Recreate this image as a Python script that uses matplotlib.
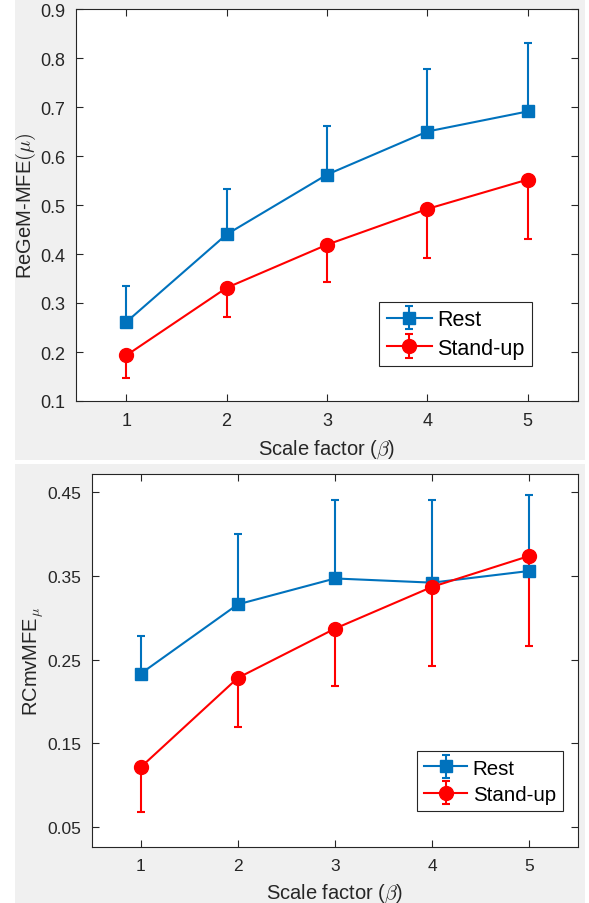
import matplotlib
matplotlib.use('Agg')
import matplotlib.pyplot as plt
from matplotlib.patches import Rectangle
from matplotlib.legend_handler import HandlerErrorbar
from matplotlib.container import ErrorbarContainer
import numpy as np

# scale factors
scales = [1, 2, 3, 4, 5]

# top panel: ReGeM-MFE(mu)
regem_rest = [0.261, 0.440, 0.562, 0.650, 0.691]
regem_rest_top = [0.334, 0.533, 0.662, 0.778, 0.831]
regem_stand = [0.193, 0.331, 0.419, 0.492, 0.552]
regem_stand_low = [0.146, 0.272, 0.343, 0.392, 0.431]

# bottom panel: RCmvMFE_mu
rcmv_rest = [0.233, 0.316, 0.347, 0.342, 0.356]
rcmv_rest_top = [0.278, 0.400, 0.441, 0.441, 0.447]
rcmv_stand = [0.121, 0.228, 0.287, 0.337, 0.374]
rcmv_stand_low = [0.068, 0.169, 0.218, 0.242, 0.266]

top_yticks = [0.1, 0.2, 0.3, 0.4, 0.5, 0.6, 0.7, 0.8, 0.9]
bottom_yticks = [0.05, 0.15, 0.25, 0.35, 0.45]

BLUE = '#0072BD'
RED = '#FF0000'
AXC = '#262626'

plt.rcParams['font.family'] = ['Liberation Sans', 'DejaVu Sans']
plt.rcParams['mathtext.fontset'] = 'cm'

W, H = 589, 904
fig = plt.figure(figsize=(W / 100, H / 100), dpi=100)
fig.patch.set_facecolor('white')


def px_rect(x0, y0, x1, y1):
    # pixel box (top-left origin) -> figure fraction
    return [x0 / W, 1 - y1 / H, (x1 - x0) / W, (y1 - y0) / H]


# grey panel backgrounds
for (x0, y0, x1, y1) in [(15, 0, 585, 461), (15, 465, 585, 904)]:
    r = px_rect(x0, y0, x1, y1)
    fig.patches.append(Rectangle((r[0], r[1]), r[2], r[3], transform=fig.transFigure,
                                 facecolor='#f0f0f0', edgecolor='none', zorder=-10))


def draw_panel(ax, rest, rest_top, stand, stand_low, yticks, ylim, fmt, ylabel,
               tick_fs, leg_fs, leg_anchor, ylpad):
    rest = np.array(rest)
    stand = np.array(stand)
    rest_err = [np.zeros(5), np.array(rest_top) - rest]
    stand_err = [stand - np.array(stand_low), np.zeros(5)]

    ax.errorbar(scales, rest, yerr=rest_err, color=BLUE, lw=1.5, marker='s',
                ms=8, mfc=BLUE, mec=BLUE, capsize=3, capthick=1.5, elinewidth=1.5,
                label='Rest')
    ax.errorbar(scales, stand, yerr=stand_err, color=RED, lw=1.5, marker='o',
                ms=10, mfc=RED, mec=RED, capsize=3, capthick=1.5, elinewidth=1.5,
                label='Stand-up')

    ax.set_xlim(0.5, 5.5)
    ax.set_ylim(*ylim)
    ax.set_xticks(scales)
    ax.set_yticks(yticks)
    ax.set_yticklabels([fmt % v for v in yticks])
    ax.tick_params(direction='in', length=5, width=0.8, colors=AXC,
                   labelsize=tick_fs, top=True, right=True, pad=8)
    for s in ax.spines.values():
        s.set_color(AXC)
        s.set_linewidth(0.8)
    ax.set_xlabel(r'Scale factor ($\beta$)', fontsize=14.5, color=AXC, labelpad=6)
    ax.set_ylabel(ylabel, fontsize=14.5, color=AXC, labelpad=ylpad)

    leg = ax.legend(loc='lower left', bbox_to_anchor=leg_anchor, borderaxespad=0,
                    fontsize=leg_fs, fancybox=False, framealpha=1, edgecolor=AXC,
                    handlelength=2.1, handletextpad=0.25, borderpad=0.35,
                    labelspacing=0.35,
                    handler_map={ErrorbarContainer: HandlerErrorbar(yerr_size=0.55)})
    leg.get_frame().set_linewidth(0.8)


ax1 = fig.add_axes(px_rect(76, 10, 578, 402))
draw_panel(ax1, regem_rest, regem_rest_top, regem_stand, regem_stand_low,
           top_yticks, (0.1, 0.9), '%.1f', r'ReGeM-MFE$(\mu)$', 13, 15.5,
           (0.604, 0.089), 1)

ax2 = fig.add_axes(px_rect(92, 475, 578, 848))
draw_panel(ax2, rcmv_rest, rcmv_rest_top, rcmv_stand, rcmv_stand_low,
           bottom_yticks, (0.0257, 0.472), '%.2f', r'RCmvMFE$_\mu$', 12.5, 14.8,
           (0.669, 0.0965), 1)

fig.savefig('out.png', dpi=100, facecolor=fig.get_facecolor())
